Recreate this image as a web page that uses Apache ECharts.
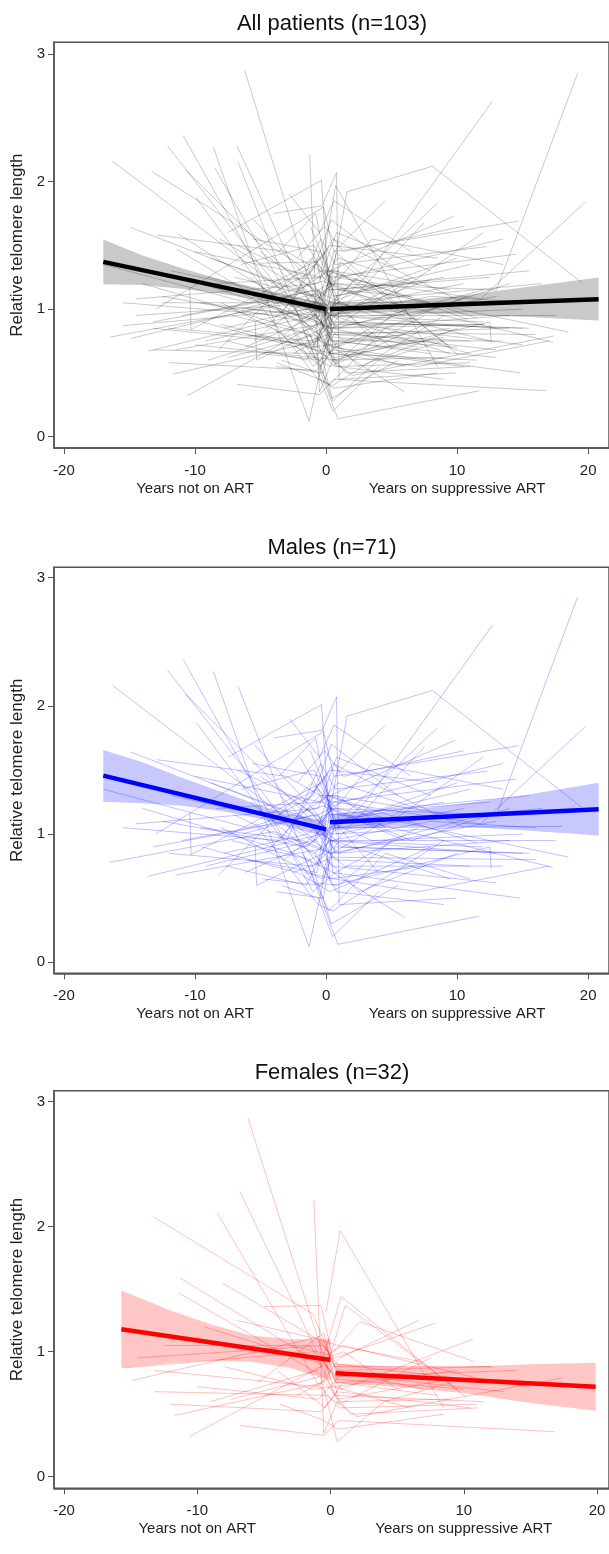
<!DOCTYPE html>
<html><head><meta charset="utf-8">
<script src="https://cdn.jsdelivr.net/npm/echarts@6/dist/echarts.min.js"></script>
<style>html,body{margin:0;padding:0;background:#fff}#c{width:609px;height:1554px}</style>
</head><body><div id="c"></div>
<script>
// ---------- tick labels / titles ----------
const xTicks = [-20, -10, 0, 10, 20];
const yTicks = [0, 1, 2, 3];
const xTickNames = { '-10': 'Years not on ART', '10': 'Years on suppressive ART' };
const panelTitles = ['All patients (n=103)', 'Males (n=71)', 'Females (n=32)'];
const yAxisTitle = 'Relative telomere length';

// ---------- individual trajectories: [years, relative telomere length] ----------
const males = [
  [[-16.3,2.16],[-0.8,0.95],[0.5,1.30],[9.5,1.15]],
  [[-16.5,0.78],[-4.0,1.02],[0.3,0.85],[13.0,1.10]],
  [[-17.0,1.35],[-6.0,1.05],[-0.2,1.22],[6.0,0.95]],
  [[-14.9,1.64],[-1.2,1.10],[0.6,0.80],[11.0,0.75]],
  [[-14.5,1.08],[-0.6,1.20],[0.8,1.60],[8.0,1.30]],
  [[-13.6,0.67],[-0.3,1.00],[1.2,0.90],[15.0,0.85]],
  [[-12.1,2.28],[-0.5,0.75],[0.2,1.05],[10.0,1.40]],
  [[-12.9,1.58],[-3.0,1.45],[0.4,1.25],[14.5,1.43]],
  [[-10.9,2.36],[-1.0,0.55],[0.7,0.70],[7.0,1.05]],
  [[-10.7,2.09],[-2.0,1.20],[0.3,0.95],[12.0,0.90]],
  [[-9.9,1.87],[-0.9,0.62],[1.0,0.60],[5.0,0.95]],
  [[-8.6,2.27],[-1.3,0.12],[0.2,0.82],[16.0,0.80]],
  [[-6.7,2.15],[-0.4,0.50],[0.9,0.14],[11.7,0.36]],
  [[-10.4,1.16],[-10.3,0.84],[-0.7,1.35],[0.5,1.10],[9.0,1.25]],
  [[-13.0,1.00],[-0.2,1.80],[0.6,1.45],[14.7,1.69]],
  [[-11.5,0.68],[-0.5,0.88],[0.4,1.05],[18.0,1.06]],
  [[-8.2,0.68],[-1.1,1.40],[0.8,1.20],[18.5,0.82]],
  [[-5.4,0.90],[-5.3,0.60],[-0.2,0.85],[1.0,1.15],[17.3,0.74]],
  [[-7.5,1.60],[-0.35,2.01],[0.5,0.70],[14.8,0.50]],
  [[-4.0,1.75],[-0.3,1.81],[0.8,2.07],[1.0,0.45],[9.9,0.50]],
  [[-3.5,1.30],[-0.1,0.95],[1.6,1.92],[8.1,2.12],[19.5,1.21]],
  [[-2.0,1.60],[0.3,1.20],[13.0,1.15],[19.2,2.85]],
  [[-1.5,1.20],[0.4,1.00],[3.0,1.25],[12.7,2.63]],
  [[-5.0,1.45],[-0.2,1.10],[0.6,1.25],[11.8,1.08],[19.8,1.84]],
  [[-9.0,1.25],[-0.5,1.05],[0.8,0.95],[7.5,1.68]],
  [[-6.0,0.80],[-0.7,0.70],[0.3,1.30],[9.8,1.73]],
  [[-12.5,1.10],[-1.5,0.90],[0.9,1.10],[8.5,1.83]],
  [[-3.0,0.95],[-0.4,1.55],[0.7,1.35],[12.3,1.49]],
  [[-7.0,1.15],[-0.8,0.85],[0.5,0.60],[12.5,0.90],[12.6,0.73]],
  [[-2.5,0.70],[0.1,0.80],[2.5,0.55],[10.0,0.85]],
  [[-14.0,1.20],[-2.5,0.85],[0.2,0.72],[6.0,0.35]],
  [[-11.0,0.95],[-0.6,1.15],[1.2,1.25],[13.5,1.55]],
  [[-8.0,1.05],[-0.3,0.65],[0.6,1.05],[16.5,1.20]],
  [[-4.5,1.10],[-1.0,1.30],[0.4,1.70],[5.5,1.30]],
  [[-15.5,1.05],[-3.5,0.95],[-0.1,1.45],[0.8,1.00],[10.5,1.20]],
  [[-6.5,1.35],[-0.9,1.50],[1.0,1.05],[4.0,0.70]],
  [[-9.5,0.90],[-2.2,0.70],[0.3,0.55],[8.0,0.90]],
  [[-5.5,1.70],[-0.6,1.15],[0.7,0.85],[14.0,0.95]],
  [[-3.8,0.55],[-0.2,0.50],[0.5,0.95],[9.5,0.65]],
  [[-7.8,0.85],[-1.4,1.00],[0.2,1.15],[15.5,1.30]],
  [[-10.0,1.45],[-0.4,1.25],[0.9,1.40],[7.0,1.20]],
  [[-2.8,1.90],[-0.5,1.60],[0.6,1.85],[6.5,1.45]],
  [[-1.8,0.85],[0.2,0.40],[4.5,0.85],[11.0,0.65]],
  [[-6.2,0.70],[-0.7,0.95],[0.4,0.75],[13.0,0.62]],
  [[-12.0,0.85],[-1.0,0.75],[1.1,0.95],[17.5,0.95]],
  [[-4.2,1.20],[-0.3,1.40],[0.5,1.55],[10.5,1.05]],
  [[-8.8,1.40],[-0.8,1.10],[0.7,1.20],[3.5,1.55],[13.5,1.35]],
  [[-1.2,1.65],[0.2,1.30],[5.0,1.10],[12.0,1.60]],
  [[-5.8,1.25],[-0.5,0.80],[0.8,0.55],[9.0,0.45]],
  [[-3.2,0.80],[-0.2,1.05],[0.3,0.65],[7.5,0.75]],
  [[-9.2,0.75],[-0.9,0.95],[0.6,1.45],[4.5,1.85]],
  [[-2.2,1.40],[-0.1,1.65],[1.3,1.45],[10.5,1.65]],
  [[-7.2,0.95],[-1.2,0.80],[0.4,0.30],[5.5,0.60]],
  [[-11.8,1.30],[-0.7,1.05],[0.9,0.85],[12.0,1.15]],
  [[-4.8,0.65],[-0.4,0.60],[0.7,0.90],[15.5,0.85]],
  [[-1.0,1.05],[0.5,1.20],[6.5,0.95],[14.0,1.20]],
  [[-6.8,1.50],[-1.6,1.25],[0.3,1.50],[8.5,1.40]],
  [[-2.6,1.05],[-0.3,0.90],[1.4,0.75],[13.5,0.75]],
  [[-13.2,0.90],[-2.8,1.10],[0.2,1.30],[11.5,0.93]],
  [[-5.2,1.05],[-0.6,0.45],[0.5,0.40],[9.0,0.95]],
  [[-8.4,1.20],[-0.2,1.25],[1.0,1.15],[6.5,1.10]],
  [[-3.6,1.45],[-0.8,1.75],[0.4,1.15],[12.5,1.25]],
  [[-1.6,0.70],[0.6,0.65],[7.0,0.55],[17.0,0.75]],
  [[-4.6,0.85],[-0.5,1.30],[0.8,1.30],[4.5,1.05]],
  [[-6.4,1.00],[-1.0,1.15],[0.3,1.00],[10.0,1.05]],
  [[-2.4,1.25],[0.1,1.10],[3.5,0.95],[15.0,1.00]],
  [[-9.6,1.05],[-1.8,0.95],[0.5,0.85],[6.0,1.20]],
  [[-0.9,0.85],[0.4,0.95],[8.0,1.10],[16.0,1.05]],
  [[-5.6,1.55],[-0.4,1.45],[0.6,1.10],[11.0,1.35]],
  [[-3.4,0.60],[-0.6,0.50],[0.5,0.20],[4.0,0.55]],
  [[-7.6,0.75],[-1.5,0.60],[0.2,0.95],[13.0,0.85]]
];
const females = [
  [[-6.2,2.87],[0.2,0.72],[6.0,0.55]],
  [[-1.25,2.21],[-0.5,0.35],[0.5,0.60],[9.0,0.62]],
  [[-13.3,2.08],[-1.3,1.30],[0.4,0.85],[7.0,0.70]],
  [[-6.8,2.28],[-0.8,0.95],[0.5,0.78],[10.0,0.70]],
  [[-8.5,2.11],[-1.0,0.75],[0.6,0.55],[11.0,0.58]],
  [[-11.3,1.59],[-0.7,0.90],[0.8,1.44],[10.1,0.64]],
  [[-11.4,1.47],[-0.5,0.80],[1.1,1.37],[9.5,0.70]],
  [[-8.1,1.55],[-1.0,1.10],[0.3,0.95],[7.9,1.23]],
  [[-14.9,0.77],[-0.8,1.12],[0.5,0.85],[12.0,0.88]],
  [[-15.5,0.87],[-1.2,1.00],[0.4,0.80],[14.0,0.85]],
  [[-11.7,0.49],[-0.6,0.75],[0.5,0.28],[4.0,0.60],[9.0,0.75]],
  [[-10.6,0.32],[-0.4,0.90],[0.8,0.70],[10.7,1.10]],
  [[-6.8,0.41],[-0.5,0.33],[0.6,0.45],[16.8,0.36]],
  [[-13.2,0.85],[-0.9,0.72],[0.7,0.95],[6.6,1.25]],
  [[-13.2,0.68],[-0.3,0.65],[2.0,0.48],[17.4,0.79]],
  [[-5.0,1.36],[-0.7,1.37],[0.3,0.88],[12.1,0.88]],
  [[-0.35,1.31],[0.73,1.97],[8.5,0.55]],
  [[-9.0,0.60],[-1.0,0.85],[2.2,1.24],[10.8,0.92]],
  [[-12.5,1.05],[-1.5,1.05],[0.4,0.65],[11.5,0.60]],
  [[-4.0,0.85],[-0.4,0.55],[0.9,0.75],[8.0,0.65]],
  [[-7.5,0.62],[-0.8,0.80],[1.5,0.50],[11.0,0.55]],
  [[-14.5,0.95],[-0.6,1.05],[0.5,0.90],[15.0,0.72]],
  [[-3.0,1.05],[-0.2,0.98],[0.6,0.62],[9.0,0.78]],
  [[-10.0,0.72],[-0.9,0.62],[0.8,0.82],[13.0,0.68]],
  [[-5.5,0.75],[-0.5,1.15],[0.4,0.75],[6.0,0.80]],
  [[-9.5,1.20],[-1.1,0.92],[1.0,1.00],[5.0,0.70]],
  [[-2.5,0.65],[-0.3,0.78],[0.7,0.58],[7.5,0.95]],
  [[-12.0,0.58],[-0.7,0.52],[0.5,0.68],[10.5,0.55]],
  [[-6.0,1.00],[-0.6,0.95],[0.9,1.05],[12.5,0.75]],
  [[-8.0,0.88],[-1.3,0.70],[0.3,0.72],[9.5,0.85]],
  [[-3.8,0.58],[-0.5,0.45],[0.6,0.38],[8.5,0.50]],
  [[-7.0,1.25],[-0.9,1.10],[0.5,1.05],[6.8,0.92]]
];

// ---------- fitted piecewise lines: [years, fitted value] ----------
const fitAllPre = [[-17, 1.37], [0, 1.0]];
const fitAllPost = [[0.3, 1.0], [20.8, 1.077]];
const fitMalePre = [[-17, 1.456], [0, 1.037]];
const fitMalePost = [[0.3, 1.092], [20.8, 1.193]];
const fitFemalePre = [[-15.7, 1.179], [0, 0.934]];
const fitFemalePost = [[0.37, 0.827], [19.9, 0.72]];

// ---------- 95% confidence bands: [years, lower, upper] ----------
const bandAllPre = [[-17,1.195,1.545],[-14,1.19,1.42],[-11,1.16,1.32],[-8,1.12,1.23],[-5,1.07,1.15],[-3,1.03,1.10],[0,0.96,1.04]];
const bandAllPost = [[0.3,0.955,1.045],[5,0.975,1.06],[10,0.96,1.10],[15,0.94,1.17],[20.8,0.91,1.247]];
const bandMalePre = [[-17,1.253,1.656],[-14,1.24,1.56],[-11,1.22,1.44],[-8,1.18,1.33],[-5,1.12,1.22],[-3,1.06,1.16],[0,0.98,1.10]];
const bandMalePost = [[0.3,1.03,1.15],[5,1.06,1.17],[10,1.06,1.23],[15,1.03,1.30],[20.8,0.988,1.40]];
const bandFemalePre = [[-15.7,0.87,1.49],[-12,0.91,1.33],[-9,0.93,1.22],[-6,0.92,1.13],[-3,0.87,1.10],[0,0.77,1.10]];
const bandFemalePost = [[0.37,0.75,0.905],[5,0.72,0.88],[10,0.67,0.88],[15,0.59,0.90],[19.9,0.528,0.912]];

// ---------- styling / layout ----------
const FONT = 'Liberation Sans, Arial, sans-serif';
const panels = [
  { title: panelTitles[0], titleY: 24, top: 42.3, bottom: 448, xmin: -20.76, xmax: 21.59, ymin: -0.089, ymax: 3.092,
    groups: [males, females], lineColor: 'rgba(0,0,0,0.24)', fitColor: '#000000', bandColor: '#c9c9c9',
    fits: [fitAllPre, fitAllPost], bands: [bandAllPre, bandAllPost] },
  { title: panelTitles[1], titleY: 548, top: 567.3, bottom: 973.3, xmin: -20.76, xmax: 21.59, ymin: -0.086, ymax: 3.081,
    groups: [males], lineColor: 'rgba(0,0,255,0.28)', fitColor: '#0000ff', bandColor: '#c8c8ff',
    fits: [fitMalePre, fitMalePost], bands: [bandMalePre, bandMalePost] },
  { title: panelTitles[2], titleY: 1073, top: 1090.7, bottom: 1488.3, xmin: -20.75, xmax: 20.9, ymin: -0.093, ymax: 3.088,
    groups: [females], lineColor: 'rgba(255,0,0,0.28)', fitColor: '#ff0000', bandColor: '#ffc6c6',
    fits: [fitFemalePre, fitFemalePost], bands: [bandFemalePre, bandFemalePost] }
];

const option = { animation: false, backgroundColor: '#ffffff', title: [], grid: [], xAxis: [], yAxis: [], series: [] };

panels.forEach((p, i) => {
  option.title.push({
    text: p.title, left: 332, top: p.titleY - 13, textAlign: 'center', padding: 0,
    textStyle: { fontFamily: FONT, fontSize: 22, lineHeight: 26, fontWeight: 'normal', color: '#111' }
  });
  option.grid.push({
    left: 54, width: 556, top: p.top, height: p.bottom - p.top,
    show: true, borderColor: '#555', borderWidth: 1.5, backgroundColor: 'transparent'
  });
  option.xAxis.push({
    gridIndex: i, type: 'value', min: p.xmin, max: p.xmax,
    axisLine: { show: true, onZero: false, lineStyle: { color: '#555', width: 1.5 } },
    axisTick: { show: true, customValues: xTicks, length: 6, lineStyle: { color: '#555', width: 1 } },
    axisLabel: {
      customValues: xTicks, margin: 14, color: '#222', fontFamily: FONT, fontSize: 15,
      formatter: function (v) {
        const n = xTickNames[String(v)];
        return n ? '{t|' + v + '}\n{n|' + n + '}' : '{t|' + v + '}';
      },
      rich: {
        t: { fontFamily: FONT, fontSize: 15, lineHeight: 18, color: '#222' },
        n: { fontFamily: FONT, fontSize: 15, lineHeight: 17, color: '#222' }
      }
    },
    splitLine: { show: false }
  });
  option.yAxis.push({
    gridIndex: i, type: 'value', min: p.ymin, max: p.ymax,
    axisLine: { show: true, onZero: false, lineStyle: { color: '#555', width: 1.5 } },
    axisTick: { show: true, customValues: yTicks, length: 6, lineStyle: { color: '#555', width: 1 } },
    axisLabel: { customValues: yTicks, margin: 9, color: '#222', fontFamily: FONT, fontSize: 15 },
    splitLine: { show: false },
    name: yAxisTitle, nameLocation: 'middle', nameGap: 26,
    nameTextStyle: { fontFamily: FONT, fontSize: 17, color: '#222' }
  });
  // confidence bands
  p.bands.forEach(band => {
    option.series.push({
      type: 'custom', xAxisIndex: i, yAxisIndex: i, silent: true, z: 1,
      data: band, encode: { x: 0, y: [1, 2] },
      renderItem: function (params, api) {
        if (params.dataIndex !== 0) return null;
        const pts = [];
        band.forEach(r => pts.push(api.coord([r[0], r[2]])));
        for (let k = band.length - 1; k >= 0; k--) pts.push(api.coord([band[k][0], band[k][1]]));
        return { type: 'polygon', shape: { points: pts }, style: { fill: p.bandColor } };
      }
    });
  });
  // individual trajectories
  p.groups.forEach(g => g.forEach(pts => {
    option.series.push({
      type: 'line', xAxisIndex: i, yAxisIndex: i, data: pts, symbol: 'none', showSymbol: false,
      silent: true, z: 2, lineStyle: { width: 0.9, color: p.lineColor }
    });
  }));
  // fitted lines
  p.fits.forEach(f => {
    option.series.push({
      type: 'line', xAxisIndex: i, yAxisIndex: i, data: f, symbol: 'none', showSymbol: false,
      silent: true, z: 4, lineStyle: { width: 4.5, color: p.fitColor, cap: 'butt' }
    });
  });
});

const chart = echarts.init(document.getElementById('c'), null, { renderer: 'canvas' });
chart.setOption(option);
</script>
</body></html>
